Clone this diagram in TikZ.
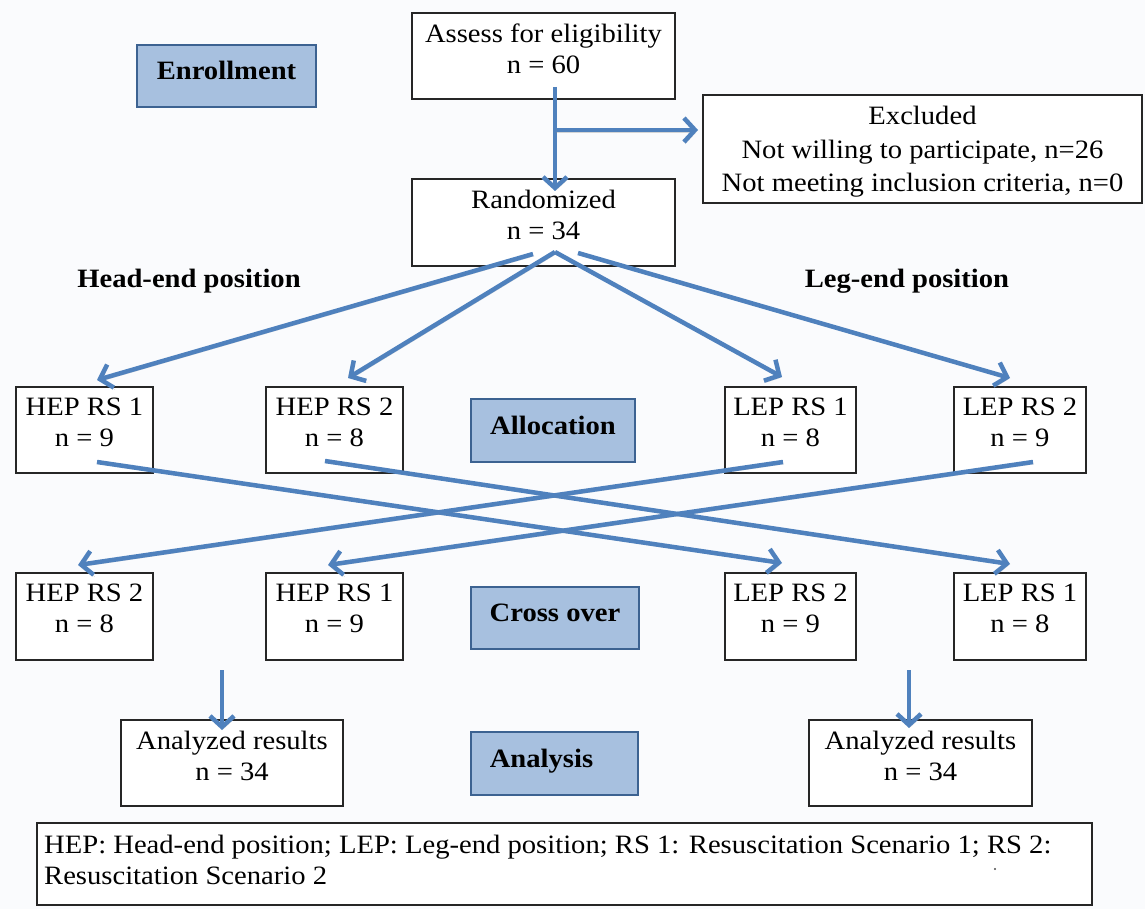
\documentclass[tikz,border=0pt]{standalone}
\usepackage{fontspec}
\setmainfont{Liberation Serif}[FakeStretch=1.08]
\usetikzlibrary{arrows.meta}
\definecolor{arrowblue}{RGB}{79,129,189}
\definecolor{labfill}{RGB}{167,192,223}
\definecolor{labdraw}{RGB}{60,98,145}
\definecolor{bgcol}{RGB}{250,251,253}
\tikzset{
  box/.style={draw=black!85, line width=2pt, fill=white, inner sep=0pt},
  boxtext/.style={inner sep=0pt, align=center, font=\fontsize{26.5}{31}\selectfont},
  stagebox/.style={draw=labdraw, line width=1.6pt, fill=labfill, inner sep=0pt,
    font=\fontsize{26.5}{31}\selectfont\bfseries, text height=12pt, text depth=5pt},
  flow/.style={draw=arrowblue, line width=4.5pt,
    -{Straight Barb[length=11pt,width=24pt]},
    preaction={draw=black!45, opacity=0.35, transform canvas={shift={(1.2pt,-2pt)}}}},
  heading/.style={font=\fontsize{26.5}{31}\selectfont\bfseries, inner sep=0pt, anchor=base},
}
\newcommand\flowbox[6]{%
  \node[box, minimum width=#4, minimum height=#5] (#1) at (#2,#3) {};
  \node[boxtext, anchor=north] (#1-t) at ([yshift=-12pt]#1.north) {#6};
}
\begin{document}
\begin{tikzpicture}[x=1pt, y=-1pt]
\useasboundingbox (0,0) rectangle (1145,909);
\fill[bgcol] (0,0) rectangle (1145,909);

% stage labels
\node[stagebox, minimum width=179, minimum height=62] (enroll) at (226.5,76) {Enrollment};
\node[stagebox, minimum width=164, minimum height=63] (alloc) at (553,430.5) {Allocation};
\node[stagebox, minimum width=168, minimum height=62] (cross) at (555,618) {Cross over};
\node[stagebox, minimum width=167, minimum height=63] (analysis) at (554.5,763.5) {Analysis\hspace*{26pt}};

% headings
\node[heading] (headend) at (189,287.5) {Head-end position};
\node[heading] (legend-h) at (907,287.5) {Leg-end position};

% flow boxes
\flowbox{assess}{543.5}{56}{263}{86}{Assess for eligibility\\n = 60}
\flowbox{rand}{543.5}{222.5}{263}{87}{Randomized\\n = 34}
\node[box, minimum width=439, minimum height=108] (excl) at (922.5,149) {};
\node[boxtext, font=\fontsize{26.5}{33.5}\selectfont, anchor=north] (excl-t) at ([yshift=-12pt]excl.north)
  {Excluded\\Not willing to participate, n=26\\Not meeting inclusion criteria, n=0};

\flowbox{hepa}{84.5}{430}{137}{86}{HEP RS 1\\n = 9}
\flowbox{hepb}{334.5}{430}{137}{86}{HEP RS 2\\n = 8}
\flowbox{lepa}{790.5}{430}{131}{86}{LEP RS 1\\n = 8}
\flowbox{lepb}{1020}{430}{132}{86}{LEP RS 2\\n = 9}

\flowbox{hepbx}{84.5}{616.5}{137}{87}{HEP RS 2\\n = 8}
\flowbox{hepax}{334.5}{616.5}{137}{87}{HEP RS 1\\n = 9}
\flowbox{lepbx}{790.5}{616.5}{131}{87}{LEP RS 2\\n = 9}
\flowbox{lepax}{1020}{616.5}{132}{87}{LEP RS 1\\n = 8}

\flowbox{resl}{232}{763}{222}{86}{Analyzed results\\n = 34}
\flowbox{resr}{920.5}{763}{223}{86}{Analyzed results\\n = 34}

% legend
\node[box, minimum width=1055, minimum height=82] (legend) at (564.5,864) {};
\node[boxtext, align=left, anchor=north west] (legend-t) at ([xshift=8pt,yshift=-13pt]legend.north west)
  {HEP: Head-end position; LEP: Leg-end position; RS 1: Resuscitation Scenario 1; RS 2:\\Resuscitation Scenario 2};
\fill[black!70] (995,869) circle (1.2pt);

% connector end points
\coordinate (v-s) at ([shift={(11.5,31)}]assess.center);
\coordinate (v-e) at ([shift={(11.5,-31.5)}]rand.center);
\coordinate (b-s) at ([shift={(11.5,74)}]assess.center);
\coordinate (b-e) at ([shift={(-224.5,-19)}]excl.center);

\coordinate (ra-s) at ([shift={(-10.5,31.5)}]rand.center);
\coordinate (rb-s) at ([shift={(11.5,29.5)}]rand.center);
\coordinate (rd-s) at ([shift={(34.5,30.5)}]rand.center);
\coordinate (hepa-in) at ([shift={(12.5,-50)}]hepa.center);
\coordinate (hepb-in) at ([shift={(13.5,-52)}]hepb.center);
\coordinate (lepa-in) at ([shift={(-8.5,-53)}]lepa.center);
\coordinate (lepb-in) at ([shift={(-10,-52)}]lepb.center);

\coordinate (hepa-out) at ([shift={(12.5,32)}]hepa.center);
\coordinate (hepb-out) at ([shift={(-9.5,31)}]hepb.center);
\coordinate (lepa-out) at ([shift={(-7.5,32)}]lepa.center);
\coordinate (lepb-out) at ([shift={(13,32)}]lepb.center);
\coordinate (lepbx-in) at ([shift={(-8.5,-53.5)}]lepbx.center);
\coordinate (lepax-in) at ([shift={(-10,-52.5)}]lepax.center);
\coordinate (hepbx-in) at ([shift={(-6.5,-51.5)}]hepbx.center);
\coordinate (hepax-in) at ([shift={(-6.5,-51.5)}]hepax.center);

\coordinate (resl-s) at ([shift={(-10,-93)}]resl.center);
\coordinate (resl-e) at ([shift={(-10,-33)}]resl.center);
\coordinate (resr-s) at ([shift={(-11.5,-93)}]resr.center);
\coordinate (resr-e) at ([shift={(-11.5,-35)}]resr.center);

% connectors
\draw[flow] (v-s) -- (v-e);
\draw[flow] (b-s) -- (b-e);
\draw[flow] (ra-s) -- (hepa-in);
\draw[flow] (rb-s) -- (hepb-in);
\draw[flow] (rb-s) -- (lepa-in);
\draw[flow] (rd-s) -- (lepb-in);
\draw[flow] (hepa-out) -- (lepbx-in);
\draw[flow] (hepb-out) -- (lepax-in);
\draw[flow] (lepa-out) -- (hepbx-in);
\draw[flow] (lepb-out) -- (hepax-in);
\draw[flow] (resl-s) -- (resl-e);
\draw[flow] (resr-s) -- (resr-e);
\end{tikzpicture}
\end{document}
